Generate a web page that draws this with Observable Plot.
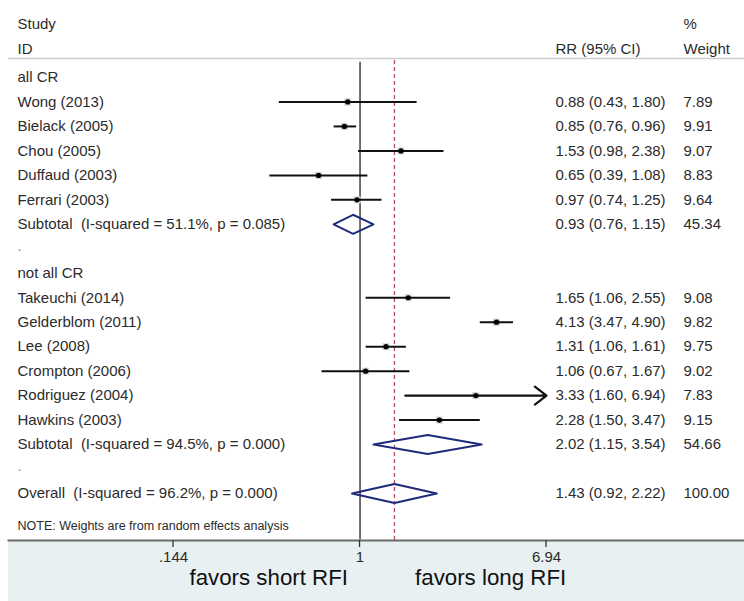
<!DOCTYPE html>
<html>
<head>
<meta charset="utf-8">
<script src="https://cdn.jsdelivr.net/npm/d3@7"></script>
<script src="https://cdn.jsdelivr.net/npm/@observablehq/plot@0.6"></script>
<style>
  html, body { margin: 0; padding: 0; background: #fff; }
  #chart svg { display: block; font-family: "Liberation Sans", Arial, sans-serif; }
</style>
</head>
<body>
<div id="chart"></div>
<script>
// ---- data ----
const labels = [
  "all CR",
  "Wong (2013)",
  "Bielack (2005)",
  "Chou (2005)",
  "Duffaud (2003)",
  "Ferrari (2003)",
  "Subtotal  (I-squared = 51.1%, p = 0.085)",
  ".",
  "not all CR",
  "Takeuchi (2014)",
  "Gelderblom (2011)",
  "Lee (2008)",
  "Crompton (2006)",
  "Rodriguez (2004)",
  "Hawkins (2003)",
  "Subtotal  (I-squared = 94.5%, p = 0.000)",
  ".",
  "Overall  (I-squared = 96.2%, p = 0.000)"
];
const kinds = ["group","study","study","study","study","study","pooled","blank",
               "group","study","study","study","study","study","study","pooled","blank","pooled"];
const rr     = [null,0.88,0.85,1.53,0.65,0.97,0.93,null,null,1.65,4.13,1.31,1.06,3.33,2.28,2.02,null,1.43];
const lower  = [null,0.43,0.76,0.98,0.39,0.74,0.76,null,null,1.06,3.47,1.06,0.67,1.60,1.50,1.15,null,0.92];
const upper  = [null,1.80,0.96,2.38,1.08,1.25,1.15,null,null,2.55,4.90,1.61,1.67,6.94,3.47,3.54,null,2.22];
const weight = [null,"7.89","9.91","9.07","8.83","9.64","45.34",null,null,"9.08","9.82","9.75","9.02","7.83","9.15","54.66",null,"100.00"];
const tickValues = [0.144, 1, 6.94];
const tickLabels = [".144", "1", "6.94"];
const headerTop = ["Study", "%"];
const headerBottom = ["ID", "RR (95% CI)", "Weight"];
const noteText = "NOTE: Weights are from random effects analysis";
const favorsLeft = "favors short RFI";
const favorsRight = "favors long RFI";

// ---- table ----
const fmt = d3.format(".2f");
const rows = labels.map((label, i) => ({
  i, label, kind: kinds[i], rr: rr[i], lo: lower[i], hi: upper[i], w: weight[i],
  ci: rr[i] == null ? null : `${fmt(rr[i])} (${fmt(lower[i])}, ${fmt(upper[i])})`
}));
const studies = rows.filter(d => d.kind === "study");
const pooled = rows.filter(d => d.kind === "pooled");
const overall = rows[rows.length - 1];
const xMax = d3.max(tickValues);
const clipped = studies.filter(d => d.hi >= xMax);
const unclipped = studies.filter(d => d.hi < xMax);
const half = 0.39;
const diamonds = pooled.flatMap(d => [
  {i: d.i, x: d.lo, y: d.i},
  {i: d.i, x: d.rr, y: d.i - half},
  {i: d.i, x: d.hi, y: d.i},
  {i: d.i, x: d.rr, y: d.i + half},
  {i: d.i, x: d.lo, y: d.i}
]);
const ticks = tickValues.map((v, k) => ({v, label: tickLabels[k]}));

const W = 744, H = 601;
const textColor = "#2b2b2b";
const font = 15;
const SVGNS = "http://www.w3.org/2000/svg";

// band below the plot area
const band = (index, scales, values, dim) => {
  const r = document.createElementNS(SVGNS, "rect");
  r.setAttribute("x", dim.marginLeft);
  r.setAttribute("y", dim.height - dim.marginBottom);
  r.setAttribute("width", dim.width - dim.marginLeft - dim.marginRight);
  r.setAttribute("height", dim.marginBottom);
  r.setAttribute("fill", "#e8f0f2");
  return r;
};
// short downward tick marks on the x axis, positioned by the x scale
const tickMarks = (index, scales, values, dim) => {
  const g = document.createElementNS(SVGNS, "g");
  const y0 = dim.height - dim.marginBottom;
  for (const t of tickValues) {
    const l = document.createElementNS(SVGNS, "line");
    const x = scales.x(t);
    l.setAttribute("x1", x); l.setAttribute("x2", x);
    l.setAttribute("y1", y0); l.setAttribute("y2", y0 + 7);
    l.setAttribute("stroke", "#333");
    l.setAttribute("stroke-width", 1.3);
    g.appendChild(l);
  }
  return g;
};

const chart = Plot.plot({
  width: W,
  height: H,
  marginLeft: 8,
  marginRight: 0,
  marginTop: 60,
  marginBottom: 61,
  style: {fontFamily: "'Liberation Sans', Arial, sans-serif", background: "#fff"},
  x: {type: "log", domain: [d3.min(tickValues), xMax], range: [173, 546], axis: null},
  y: {type: "linear", domain: [0, rows.length - 1], range: [77, 493], axis: null},
  marks: [
    band,
    // header separator
    Plot.ruleY([-0.78], {stroke: "#cfcfcf", strokeWidth: 1.5}),
    // reference lines
    Plot.ruleX([1], {stroke: "#222", strokeWidth: 1.3, y1: -0.62, y2: rows.length + 0.9}),
    Plot.ruleX([overall.rr], {stroke: "#b5505a", strokeWidth: 1.3, strokeDasharray: "4,3"}),
    // weight boxes and CIs
    Plot.dot(studies, {x: "rr", y: "i", symbol: "square", r: 4, fill: "#d6d6d6", stroke: "none"}),
    Plot.link(unclipped, {x1: "lo", x2: "hi", y1: "i", y2: "i", stroke: "#111", strokeWidth: 2}),
    Plot.arrow(clipped, {x1: "lo", x2: "hi", y1: "i", y2: "i", stroke: "#111", strokeWidth: 2.2, headAngle: 75, headLength: 10}),
    Plot.dot(studies, {x: "rr", y: "i", r: 2.6, fill: "#000", stroke: "none"}),
    // pooled diamonds
    Plot.line(diamonds, {x: "x", y: "y", z: "i", stroke: "#1f2b7b", strokeWidth: 2, curve: "linear"}),
    // left label column
    Plot.text(rows.filter(d => d.kind !== "blank"), {y: "i", text: "label", frameAnchor: "left", dx: 9, textAnchor: "start", fontSize: font, fill: textColor}),
    Plot.text(rows.filter(d => d.kind === "blank"), {y: "i", text: "label", frameAnchor: "left", dx: 9, dy: -3, textAnchor: "start", fontSize: font, fill: "#888"}),
    // RR and weight columns
    Plot.text(rows.filter(d => d.ci), {y: "i", text: "ci", frameAnchor: "left", dx: 547, textAnchor: "start", fontSize: font, fill: textColor}),
    Plot.text(rows.filter(d => d.w), {y: "i", text: "w", frameAnchor: "left", dx: 675, textAnchor: "start", fontSize: font, fill: textColor}),
    // headers
    Plot.text([headerTop[0]], {frameAnchor: "top-left", dx: 9, dy: -42, textAnchor: "start", fontSize: font, fill: textColor}),
    Plot.text([headerTop[1]], {frameAnchor: "top-left", dx: 675, dy: -42, textAnchor: "start", fontSize: font, fill: textColor}),
    Plot.text([headerBottom[0]], {frameAnchor: "top-left", dx: 9, dy: -17, textAnchor: "start", fontSize: font, fill: textColor}),
    Plot.text([headerBottom[1]], {frameAnchor: "top-left", dx: 547, dy: -17, textAnchor: "start", fontSize: font, fill: textColor}),
    Plot.text([headerBottom[2]], {frameAnchor: "top-left", dx: 675, dy: -17, textAnchor: "start", fontSize: font, fill: textColor}),
    // note
    Plot.text([noteText], {frameAnchor: "bottom-left", dx: 9, dy: -11, textAnchor: "start", fontSize: 12.5, fill: textColor}),
    // axis line, ticks and tick labels
    Plot.frame({anchor: "bottom", stroke: "#6a6a6a", strokeWidth: 2}),
    tickMarks,
    Plot.text(ticks, {x: "v", text: "label", frameAnchor: "bottom", dy: 21, fontSize: 15, fill: textColor}),
    Plot.text([1], {x: d => d, text: () => favorsLeft, frameAnchor: "bottom", dx: -12, dy: 44, textAnchor: "end", fontSize: 22.3, fill: "#111"}),
    Plot.text([1], {x: d => d, text: () => favorsRight, frameAnchor: "bottom", dx: 55, dy: 44, textAnchor: "start", fontSize: 22.3, fill: "#111"})
  ]
});
document.getElementById("chart").appendChild(chart);
</script>
</body>
</html>
